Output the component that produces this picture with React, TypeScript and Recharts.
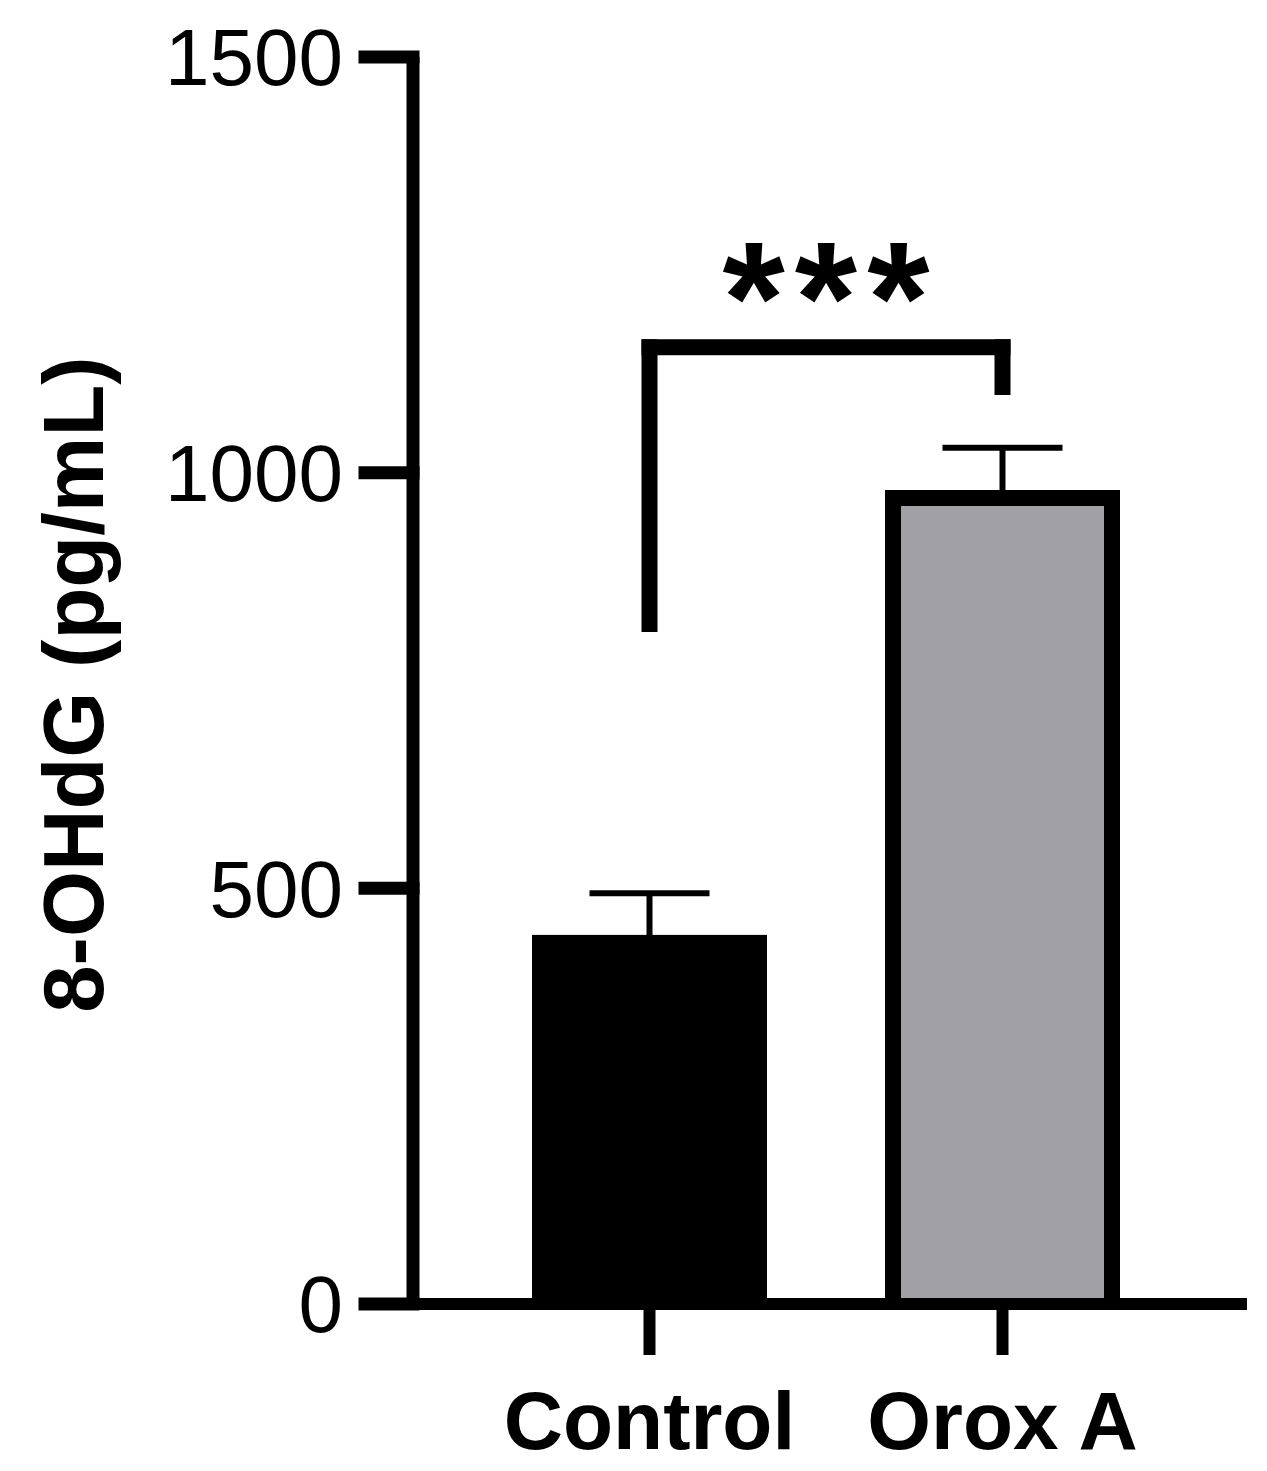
import { BarChart, Bar, XAxis, YAxis, ErrorBar, ReferenceLine } from "recharts";

const groups = ["Control", "Orox A"];
const means = [444, 979];
const semUp = [50, 51];
const semLow = [8, 8]; // hidden inside the bar, Prism only shows the upper arm
const yTicks = [0, 500, 1000, 1500];
const bracketTop = 1151;
const bracketLeftEnd = 818;
const bracketRightEnd = 1103;

const data = groups.map((g, i) => ({ name: g, value: means[i], err: [semLow[i], semUp[i]] }));

const font = "'Liberation Sans', Arial, Helvetica, sans-serif";

function BarShape(props: any) {
  const { x, y, width, height, payload } = props;
  if (payload.name === "Orox A") {
    const sw = 16;
    const h = sw / 2;
    return (
      <g>
        <rect x={x} y={y} width={width} height={height} fill="#a1a1a5" />
        <path
          d={`M${x + h},${y + height} L${x + h},${y + h} L${x + width - h},${y + h} L${x + width - h},${y + height}`}
          fill="none"
          stroke="#000"
          strokeWidth={sw}
        />
      </g>
    );
  }
  return <rect x={x} y={y} width={width} height={height} fill="#000" />;
}

function YLabel(props: any) {
  const vb = props.viewBox;
  const cx = 103;
  const cy = vb.y + vb.height / 2 + 4;
  return (
    <text
      x={cx}
      y={cy}
      transform={`rotate(-90, ${cx}, ${cy})`}
      textAnchor="middle"
      fontFamily={font}
      fontWeight="bold"
      fontSize={85}
      fill="#000"
    >
      8-OHdG (pg/mL)
    </text>
  );
}

function Stars(props: any) {
  const vb = props.viewBox;
  const ls = 10;
  const cx = vb.x + vb.width / 2 + ls / 2;
  return (
    <text
      x={cx}
      y={vb.y + 6}
      textAnchor="middle"
      fontFamily={font}
      fontWeight="bold"
      fontSize={160}
      letterSpacing={ls}
      fill="#000"
    >
      ***
    </text>
  );
}

export default function App() {
  const line = { stroke: "#000", strokeWidth: 13 };
  return (
    <div style={{ position: "absolute", left: 0, top: 0, background: "#fff" }}>
      <BarChart width={1267} height={1471} data={data} margin={{ top: 57, right: 20, bottom: 0, left: 0 }}>
        <XAxis
          dataKey="name"
          height={167}
          axisLine={{ stroke: "#000", strokeWidth: 12 }}
          tickLine={{ stroke: "#000", strokeWidth: 12 }}
          tickSize={51}
          tickMargin={36}
          padding={{ left: 60, right: 68 }}
          tick={{ fill: "#000", fontSize: 82, fontWeight: "bold", fontFamily: font }}
        />
        <YAxis
          width={413}
          domain={[0, 1500]}
          ticks={yTicks}
          allowDataOverflow
          axisLine={line}
          tickLine={{ ...line, strokeLinecap: "square" }}
          tickSize={48}
          tickMargin={22}
          tick={{ fill: "#000", fontSize: 80, fontFamily: font }}
          label={<YLabel />}
        />
        <Bar dataKey="value" barSize={235} shape={BarShape} isAnimationActive={false}>
          <ErrorBar dataKey="err" width={60} stroke="#000" strokeWidth={6} direction="y" />
        </Bar>
        <ReferenceLine
          segment={[{ x: "Control", y: bracketLeftEnd }, { x: "Control", y: bracketTop }]}
          stroke="#000"
          strokeWidth={16}
          strokeLinecap="square"
        />
        <ReferenceLine
          segment={[{ x: "Control", y: bracketTop }, { x: "Orox A", y: bracketTop }]}
          stroke="#000"
          strokeWidth={16}
          strokeLinecap="square"
          label={<Stars />}
        />
        <ReferenceLine
          segment={[{ x: "Orox A", y: bracketTop }, { x: "Orox A", y: bracketRightEnd }]}
          stroke="#000"
          strokeWidth={16}
          strokeLinecap="square"
        />
      </BarChart>
    </div>
  );
}
